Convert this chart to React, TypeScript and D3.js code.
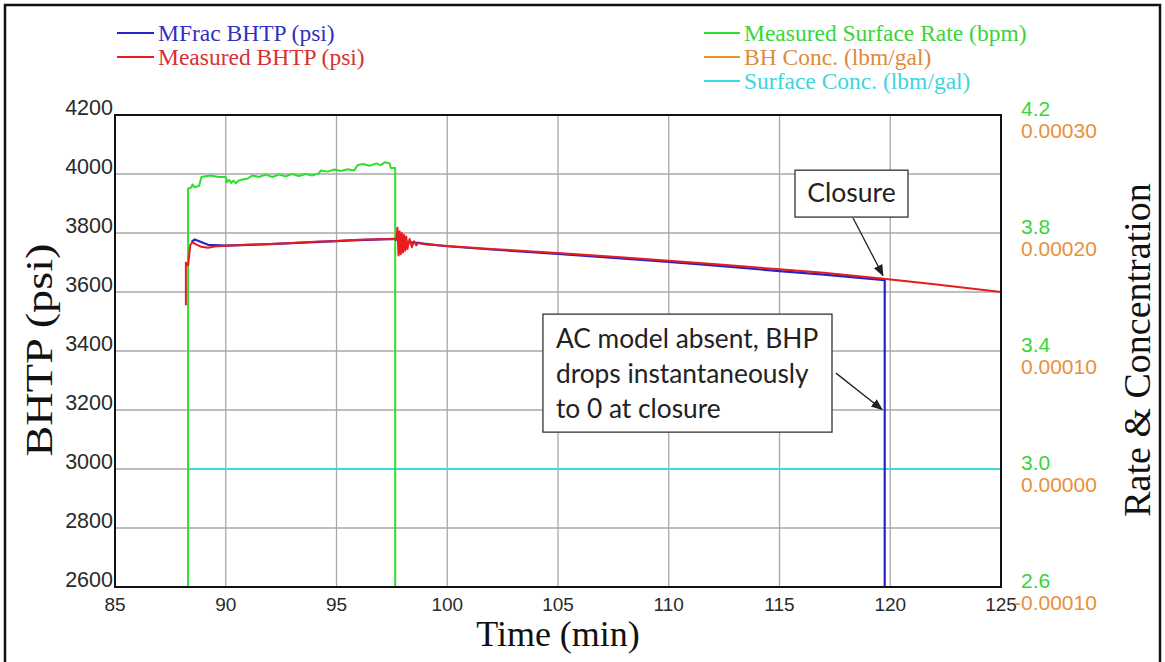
import React from "react";
import * as d3 from "d3";

// ---------- data ----------
const timeTicks = [85, 90, 95, 100, 105, 110, 115, 120, 125];
const psiTicks = [2600, 2800, 3000, 3200, 3400, 3600, 3800, 4000, 4200];
const rateTicks = ["2.6", "3.0", "3.4", "3.8", "4.2"];
const concTicks = ["-0.00010", "0.00000", "0.00010", "0.00020", "0.00030"];

// Measured BHTP (psi) : [time, psi]
const measuredBHTP: [number, number][] = [
  [88.2, 3555], [88.2, 3700], [88.3, 3690], [88.4, 3760], [88.5, 3768], [88.6, 3764],
  [88.7, 3760], [88.9, 3753], [89.2, 3750], [89.5, 3754], [90, 3757], [91, 3760],
  [92, 3763], [93, 3766], [94, 3770], [95, 3773], [96, 3777], [97, 3779], [97.6, 3780],
  [97.7, 3778], [97.75, 3818], [97.8, 3724], [97.85, 3806], [97.9, 3728], [97.95, 3800],
  [98.0, 3734], [98.05, 3794], [98.1, 3740], [98.15, 3788], [98.2, 3746], [98.3, 3780],
  [98.4, 3752], [98.5, 3772], [98.6, 3758], [98.7, 3768], [99, 3762], [100, 3756],
  [102, 3746], [105, 3732], [108, 3717], [110, 3706], [112, 3695], [115, 3677],
  [117, 3665], [119.7, 3645], [122, 3626], [125, 3600],
];

// MFrac BHTP (psi)
const mfracBHTP: [number, number][] = [
  [88.45, 3770], [88.6, 3778], [88.8, 3772], [89.2, 3760], [90, 3757], [92, 3762],
  [94, 3769], [96, 3776], [97.6, 3780], [98, 3772], [99, 3763], [100, 3755],
  [102, 3744], [105, 3729], [108, 3713], [110, 3702], [112, 3690], [115, 3671],
  [117, 3659], [119.75, 3640], [119.75, 0],
];

// Measured Surface Rate (bpm)
const surfaceRate: [number, number][] = [
  [88.3, 2.6], [88.3, 3.95], [88.45, 3.955], [88.5, 3.965], [88.6, 3.955], [88.8, 3.96],
  [88.9, 3.99], [89.3, 3.995], [89.7, 3.99], [90.0, 3.99], [90.05, 3.972], [90.15, 3.98],
  [90.25, 3.97], [90.35, 3.978], [90.45, 3.968], [90.55, 3.976], [90.65, 3.98],
  [91.0, 3.985], [91.2, 3.995], [91.5, 3.99], [91.8, 3.998], [92.1, 3.99], [92.4, 3.998],
  [92.7, 3.992], [93.0, 4.0], [93.3, 3.993], [93.6, 4.0], [93.9, 3.995], [94.2, 4.002],
  [94.3, 4.012], [94.6, 4.008], [94.9, 4.015], [95.2, 4.01], [95.5, 4.016], [95.8, 4.012],
  [95.95, 4.03], [96.2, 4.034], [96.5, 4.028], [96.8, 4.036], [97.0, 4.03], [97.2, 4.04],
  [97.4, 4.036], [97.45, 4.02], [97.65, 4.02], [97.65, 2.6],
];

// BH Conc. and Surface Conc. (lbm/gal)
const bhConc: [number, number][] = [[88.3, 0], [125, 0]];
const surfaceConc: [number, number][] = [[88.3, 0], [125, 0]];

const legendLeft = [
  { label: "MFrac BHTP (psi)", color: "#2424c8", text: "#3030c0" },
  { label: "Measured BHTP (psi)", color: "#e81c1c", text: "#d83030" },
];
const legendRight = [
  { label: "Measured Surface Rate (bpm)", color: "#2ee02e", text: "#3ad43a" },
  { label: "BH Conc. (lbm/gal)", color: "#e8902a", text: "#e08a3a" },
  { label: "Surface Conc. (lbm/gal)", color: "#36dcdc", text: "#40d4dc" },
];

// ---------- layout ----------
const W = 1165, H = 662;
const L = 115, R = 1001, T = 115, B = 587;

export default function App() {
  const x = d3.scaleLinear().domain([85, 125]).range([L, R]);
  const yP = d3.scaleLinear().domain([2600, 4200]).range([B, T]);
  const yR = d3.scaleLinear().domain([2.6, 4.2]).range([B, T]);
  const yC = d3.scaleLinear().domain([-0.0001, 0.0003]).range([B, T]);

  const lineP = d3.line<[number, number]>().x(d => x(d[0])).y(d => yP(d[1]));
  const lineR = d3.line<[number, number]>().x(d => x(d[0])).y(d => yR(d[1]));
  const lineC = d3.line<[number, number]>().x(d => x(d[0])).y(d => yC(d[1]));

  const serif = "'Liberation Serif', 'Times New Roman', serif";
  const sans = "'Liberation Sans', Arial, sans-serif";
  const callout = "Lato, 'Open Sans', sans-serif";

  // annotation anchors in data units
  const clBox = { t0: 115.7, t1: 120.8, p0: 4013, p1: 3854 };
  const clArrow = { t0: 118.32, p0: 3851, t1: 119.67, p1: 3656 };
  const acBox = { t0: 104.32, t1: 117.37, p0: 3525, p1: 3125 };
  const acArrow = { t0: 117.55, p0: 3325, t1: 119.63, p1: 3202 };

  return (
    <svg width={W} height={H} style={{ position: "absolute", left: 0, top: 0, background: "#fff" }}>
      <defs>
        <clipPath id="plot">
          <rect x={L} y={T} width={R - L} height={B - T} />
        </clipPath>
        <marker id="arr" viewBox="0 0 10 10" refX="9" refY="5" markerWidth="9" markerHeight="9" orient="auto">
          <path d="M0,1 L10,5 L0,9 Z" fill="#222" />
        </marker>
      </defs>
      <rect x={0} y={0} width={W} height={H} fill="#fff" />
      {/* outer frame */}
      <path d={`M5,${H} V5 H1160 V${H}`} fill="none" stroke="#111" strokeWidth={2.5} />

      {/* gridlines */}
      {timeTicks.slice(1, -1).map(t => (
        <line key={"vx" + t} x1={x(t)} x2={x(t)} y1={T} y2={B} stroke="#a8a8a8" strokeWidth={1.3} />
      ))}
      {psiTicks.slice(1, -1).map(p => (
        <line key={"hy" + p} x1={L} x2={R} y1={yP(p)} y2={yP(p)} stroke="#a8a8a8" strokeWidth={1.3} />
      ))}

      {/* series */}
      <g clipPath="url(#plot)" fill="none" strokeLinejoin="round">
        <path d={lineC(bhConc) || ""} stroke="#e8902a" strokeWidth={2} />
        <path d={lineC(surfaceConc) || ""} stroke="#36dcdc" strokeWidth={2} />
        <path d={lineR(surfaceRate) || ""} stroke="#2ee02e" strokeWidth={2} />
        <path d={lineP(mfracBHTP) || ""} stroke="#2424c8" strokeWidth={2.2} />
        <path d={lineP(measuredBHTP) || ""} stroke="#e81c1c" strokeWidth={2} />
      </g>

      {/* plot frame */}
      <rect x={L} y={T} width={R - L} height={B - T} fill="none" stroke="#111" strokeWidth={2} />

      {/* left axis labels */}
      {psiTicks.map(p => (
        <text key={"pl" + p} x={L - 2} y={yP(p)} textAnchor="end" fontFamily={sans} fontSize={21.5} fill="#2a2a2a">
          {p}
        </text>
      ))}
      {/* bottom axis labels */}
      {timeTicks.map(t => (
        <text key={"tl" + t} x={x(t)} y={B + 24} textAnchor="middle" fontFamily={sans} fontSize={19} fill="#2a2a2a">
          {t}
        </text>
      ))}
      {/* right axis labels */}
      {rateTicks.map(r => (
        <text key={"rl" + r} x={R + 20} y={yR(+r) + 1} fontFamily={sans} fontSize={21} fill="#3ad43a">
          {r}
        </text>
      ))}
      {concTicks.map(c => (
        <text key={"cl" + c} x={c.startsWith("-") ? R + 13 : R + 20} y={yC(+c) + 23} fontFamily={sans} fontSize={21} fill="#e8903a">
          {c}
        </text>
      ))}

      {/* axis titles */}
      <text x={558} y={646} textAnchor="middle" fontFamily={serif} fontSize={36} fill="#111">Time (min)</text>
      <text transform={`translate(52,${(T + B) / 2 - 1}) rotate(-90)`} textAnchor="middle" fontFamily={serif} fontSize={38} fill="#111" textLength={213} lengthAdjust="spacingAndGlyphs">BHTP (psi)</text>
      <text transform={`translate(1150,${(T + B) / 2 - 1}) rotate(-90)`} textAnchor="middle" fontFamily={serif} fontSize={38} fill="#111">Rate &amp; Concentration</text>

      {/* legends */}
      {legendLeft.map((d, i) => (
        <g key={d.label} transform={`translate(117,${33 + i * 24})`}>
          <line x1={0} x2={37} y1={0} y2={0} stroke={d.color} strokeWidth={2} />
          <text x={41} y={8} fontFamily={serif} fontSize={23.5} fill={d.text}>{d.label}</text>
        </g>
      ))}
      {legendRight.map((d, i) => (
        <g key={d.label} transform={`translate(704,${33 + i * 24})`}>
          <line x1={0} x2={36} y1={0} y2={0} stroke={d.color} strokeWidth={2} />
          <text x={40} y={8} fontFamily={serif} fontSize={23.5} fill={d.text}>{d.label}</text>
        </g>
      ))}

      {/* Closure annotation */}
      <rect x={x(clBox.t0)} y={yP(clBox.p0)} width={x(clBox.t1) - x(clBox.t0)} height={yP(clBox.p1) - yP(clBox.p0)} fill="#fff" stroke="#333" strokeWidth={1.3} />
      <text x={(x(clBox.t0) + x(clBox.t1)) / 2} y={yP(clBox.p0) + 32} textAnchor="middle" fontFamily={callout} fontSize={26.5} fill="#222">Closure</text>
      <line x1={x(clArrow.t0)} y1={yP(clArrow.p0)} x2={x(clArrow.t1)} y2={yP(clArrow.p1)} stroke="#222" strokeWidth={1.3} markerEnd="url(#arr)" />

      {/* AC annotation */}
      <rect x={x(acBox.t0)} y={yP(acBox.p0)} width={x(acBox.t1) - x(acBox.t0)} height={yP(acBox.p1) - yP(acBox.p0)} fill="#fff" stroke="#333" strokeWidth={1.3} />
      {["AC model absent, BHP", "drops instantaneously", "to 0 at closure"].map((s, i) => (
        <text key={s} x={x(acBox.t0) + 13} y={yP(acBox.p0) + 34 + i * 35} fontFamily={callout} fontSize={26.3} fill="#222">{s}</text>
      ))}
      <line x1={x(acArrow.t0)} y1={yP(acArrow.p0)} x2={x(acArrow.t1)} y2={yP(acArrow.p1)} stroke="#222" strokeWidth={1.3} markerEnd="url(#arr)" />
    </svg>
  );
}
